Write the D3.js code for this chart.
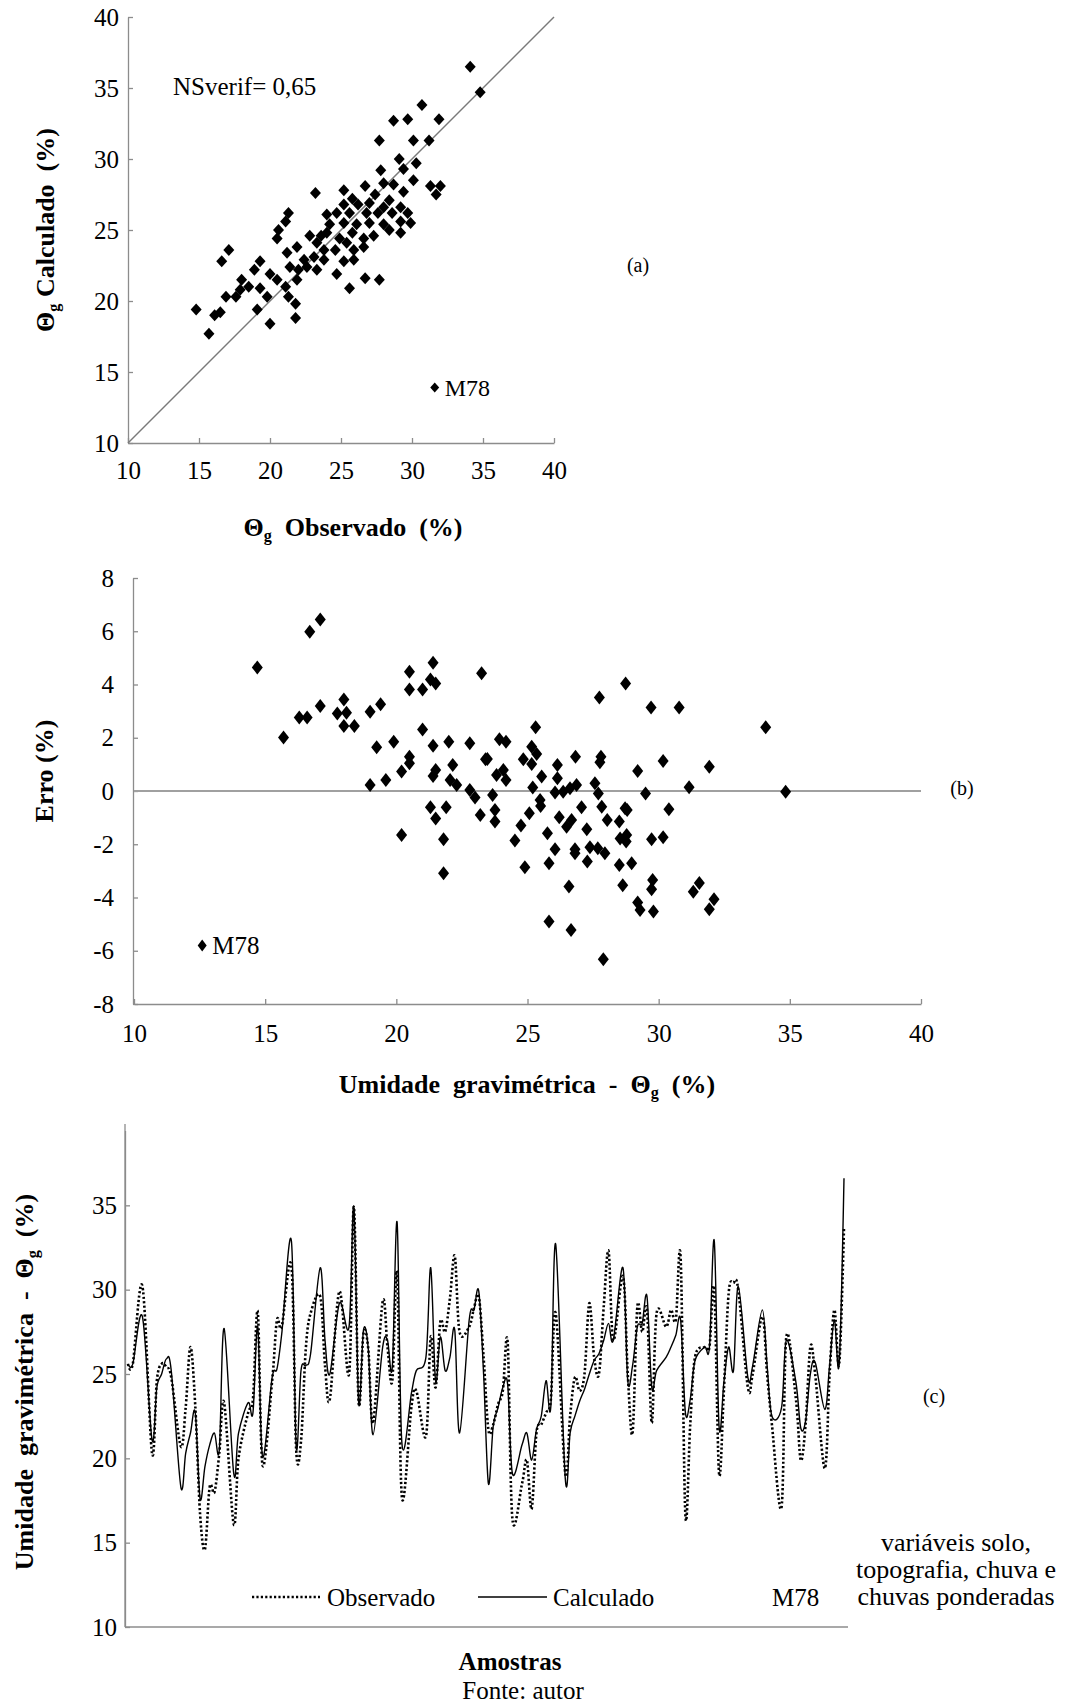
<!DOCTYPE html>
<html><head><meta charset="utf-8">
<script src="https://cdn.jsdelivr.net/npm/d3@7"></script>
<style>
body{margin:0;background:#fff}
svg{display:block}
text{font-family:"Liberation Serif","Times New Roman",Tinos,serif;fill:#000;white-space:pre}
</style>
</head><body>
<svg id="fig" width="1070" height="1703"></svg>
<script>
// ---------- Panel (a): observed vs calculated ----------
const pontosA = [[34.1,36.5],[34.8,34.7],[30.7,33.8],[28.7,32.7],[29.7,32.8],[31.9,32.8],[27.7,31.3],[30.1,31.3],[31.2,31.3],[29.1,30.0],[30.3,29.7],[27.8,29.2],[29.4,29.3],[30.1,28.5],[28.0,28.3],[31.3,28.1],[32.0,28.1],[31.7,27.5],[23.2,27.6],[25.2,27.8],[26.7,28.1],[27.4,27.5],[28.7,28.2],[29.4,27.7],[28.4,27.1],[25.8,27.2],[25.2,26.8],[26.2,26.8],[27.0,26.9],[28.0,26.6],[29.2,26.6],[29.7,26.2],[24.0,26.1],[24.7,26.2],[25.6,26.2],[26.8,26.2],[27.6,26.2],[28.6,26.2],[21.3,26.2],[21.1,25.6],[29.2,25.6],[29.9,25.5],[24.2,25.4],[25.2,25.5],[26.1,25.4],[27.0,25.5],[28.0,25.4],[20.6,25.0],[20.5,24.4],[22.8,24.6],[23.6,24.6],[24.0,24.8],[24.9,24.4],[25.8,24.8],[26.6,24.4],[27.3,24.6],[28.4,25.0],[29.2,24.8],[23.3,24.1],[21.9,23.8],[21.2,23.4],[23.8,23.6],[24.6,23.6],[25.4,24.1],[25.9,23.6],[26.6,23.8],[17.1,23.6],[16.6,22.8],[19.3,22.8],[22.4,22.9],[23.1,23.1],[23.8,22.9],[25.2,22.8],[25.9,22.9],[18.9,22.2],[20.0,21.9],[21.4,22.4],[22.0,22.2],[22.6,22.4],[23.3,22.2],[24.7,21.9],[26.7,21.6],[27.7,21.5],[25.6,20.9],[18.0,21.5],[18.5,21.0],[17.9,20.8],[20.5,21.5],[19.3,20.9],[21.1,21.0],[21.9,21.5],[16.9,20.3],[17.6,20.3],[19.8,20.3],[21.3,20.3],[21.8,19.8],[14.8,19.4],[16.1,19.0],[16.5,19.2],[19.1,19.4],[20.0,18.4],[21.8,18.8],[15.7,17.7]];
const m78A = [31.6, 13.9];
const ticksA = [10,15,20,25,30,35,40];

// ---------- Panel (b): error vs gravimetric moisture ----------
const pontosB = [[14.7,4.64],[16.7,5.98],[17.1,6.44],[15.7,2.01],[16.3,2.76],[16.6,2.76],[17.1,3.19],[17.75,2.91],[18.0,3.44],[18.1,2.94],[18.0,2.44],[18.4,2.44],[19.0,2.98],[19.4,3.26],[19.25,1.64],[19.9,1.85],[19.0,0.23],[19.6,0.41],[20.5,4.48],[20.5,3.81],[21.0,3.81],[21.4,4.82],[21.3,4.19],[21.5,4.04],[23.25,4.42],[21.0,2.31],[20.5,1.29],[20.5,1.04],[20.2,0.73],[21.4,1.70],[22.0,1.85],[22.8,1.79],[22.15,0.98],[21.5,0.79],[21.4,0.56],[22.05,0.41],[22.3,0.23],[22.8,0.04],[23.0,-0.24],[23.4,1.19],[21.3,-0.61],[21.9,-0.61],[21.5,-1.03],[23.2,-0.90],[20.2,-1.65],[21.8,-1.81],[21.8,-3.09],
[28.74,4.04],[27.74,3.51],[29.71,3.14],[30.78,3.14],[34.08,2.39],[34.84,-0.03],[25.31,2.39],[23.93,1.94],[24.18,1.85],[25.16,1.66],[25.35,1.39],[25.16,1.01],[24.84,1.19],[23.47,1.20],[24.08,0.79],[23.82,0.60],[24.18,0.41],[26.14,0.98],[26.14,0.48],[26.83,1.29],[25.54,0.54],[27.80,1.29],[27.76,1.08],[29.20,0.75],[30.17,1.13],[31.93,0.91],[31.16,0.14],[25.20,0.13],[26.05,-0.06],[26.36,-0.03],[26.62,0.10],[26.87,0.23],[27.57,0.29],[27.70,-0.09],[29.50,-0.09],[23.67,-0.15],[23.76,-0.71],[23.76,-1.15],[25.48,-0.34],[25.50,-0.56],[25.07,-0.84],[24.75,-1.30],[24.52,-1.86],[24.90,-2.86],[25.76,-1.59],[26.21,-0.99],[26.49,-1.34],[26.68,-1.09],[27.06,-0.61],[27.26,-1.44],[26.05,-2.19],[25.82,-2.71],[26.81,-2.19],[26.81,-2.34],[27.28,-2.65],[27.38,-2.11],[27.68,-2.15],[27.95,-2.34],[27.83,-0.59],[28.04,-1.09],[28.50,-1.15],[28.72,-0.65],[28.80,-0.71],[28.53,-1.78],[28.78,-1.65],[28.76,-1.90],[28.50,-2.78],[28.97,-2.71],[29.73,-1.81],[30.17,-1.74],[30.39,-0.69],[26.58,-3.59],[28.63,-3.54],[29.77,-3.34],[29.73,-3.69],[29.20,-4.19],[29.29,-4.47],[29.80,-4.53],[31.55,-3.46],[31.32,-3.78],[32.11,-4.07],[31.93,-4.44],[25.82,-4.90],[26.66,-5.22],[27.89,-6.32]];
const m78B = [12.6, -5.8];
const ticksBx = [10,15,20,25,30,35,40];
const ticksBy = [-8,-6,-4,-2,0,2,4,6,8];

// ---------- Panel (c): series by sample ----------
const amostras = [1,2,4,6,7,8,9,10,12,13,14,15,16,17,18,19,20,21,23,24,26,27,28,29,31,32,33,35,36,37,38,39,41,42,43,45,47,48,49,50,51,52,54,55,56,57,58,60,61,63,64,65,66,67,68,69,70,72,73,74,75,76,77,78,79,80,81,83,84,85,86,87,88,89,90,92,93,94,95,96,97,98,99,100,101,102,104,105,106,107,108,109,110,111,113,114,115,116,117,118,119,121,122,123,124,125,126,127,128,130,131,133,134,135,137,138,140,141,142,143,144,146,147,148,149,150];
const calculado = [25.6,25.6,28.4,21.1,24.2,25.0,25.9,25.2,18.3,20.3,21.5,22.7,17.6,19.5,20.8,21.5,20.5,27.7,19.1,21.5,23.3,22.7,27.8,20.1,24.8,25.3,27.4,32.9,20.7,25.2,25.5,26.2,31.3,27.0,25.0,29.2,27.8,34.9,23.3,27.6,26.5,21.4,26.6,27.0,25.4,34.0,20.9,23.9,25.2,26.0,31.3,24.6,27.2,25.2,26.0,27.6,21.5,28.2,28.8,29.9,25.0,18.5,21.9,23.0,24.2,24.4,19.1,20.8,21.5,19.9,21.7,22.5,24.6,23.1,32.7,18.8,21.5,22.5,23.4,24.1,25.0,25.8,26.2,27.0,28.0,27.0,31.3,24.6,25.5,27.8,28.0,29.6,24.2,25.2,26.0,26.6,27.3,28.2,22.7,23.5,25.8,26.6,26.6,32.9,21.9,24.5,26.6,25.2,30.2,24.8,25.5,28.8,25.5,22.5,23.0,27.0,24.5,21.8,22.2,25.0,25.7,22.9,25.5,28.2,25.6,36.6];
const observado = [25.6,25.6,30.2,20.3,24.6,25.6,25.4,24.8,20.7,23.0,26.6,23.1,16.7,14.6,18.3,18.0,20.3,23.3,16.1,20.0,22.7,23.5,28.7,19.6,24.6,28.2,27.8,31.4,20.5,21.0,26.5,28.6,29.6,25.5,23.5,29.9,25.0,34.9,23.3,27.4,26.5,22.1,29.3,26.6,24.6,31.0,17.7,23.1,24.0,21.3,27.2,24.2,28.1,27.5,29.5,32.0,27.5,27.8,28.9,29.6,26.0,21.7,22.0,23.2,24.0,26.9,16.4,18.5,19.9,17.0,21.5,22.0,22.7,23.5,28.6,19.1,22.5,24.8,24.0,25.0,29.2,26.0,25.0,29.0,32.3,27.0,30.8,25.0,21.5,29.0,27.5,28.8,22.1,28.6,27.8,28.8,28.2,31.9,16.6,22.0,26.0,26.6,26.6,30.0,19.1,24.0,29.8,30.4,30.0,24.2,25.0,28.4,25.0,22.0,17.1,27.2,23.5,19.9,22.0,26.6,25.0,19.4,25.0,28.8,25.6,33.7];
const ticksCy = [10,15,20,25,30,35,40];

// ---------- drawing ----------
const svg = d3.select('#fig');
svg.append('rect').attr('width',1070).attr('height',1703).attr('fill','#fff');
const AX = '#8c8c8c';
const fmt = d => String(d);

function diamond(w,h){ return `M0,${-h}L${w},0L0,${h}L${-w},0Z`; }
function styleAxis(g, size){
  g.attr('font-family',null);
  g.selectAll('.domain').attr('stroke',AX).attr('stroke-width',1.3);
  g.selectAll('.tick line').attr('stroke',AX).attr('stroke-width',1.3);
  g.selectAll('.tick text').attr('font-size',size).attr('fill','#000');
}
function thetaLabel(sel, before, after){
  sel.append('tspan').text(before + 'Θ');
  sel.append('tspan').attr('font-size','0.62em').attr('dy','0.28em').text('g');
  sel.append('tspan').attr('dy','-0.18em').text(after);
}

// Panel (a)
const xA = d3.scaleLinear().domain([10,40]).range([128,554]);
const yA = d3.scaleLinear().domain([10,40]).range([443,17]);
const gA = svg.append('g');
gA.append('g').attr('transform','translate(0,443)')
  .call(d3.axisBottom(xA).tickValues(ticksA).tickFormat(fmt).tickSize(-5).tickSizeOuter(0).tickPadding(18))
  .call(g=>styleAxis(g,25));
gA.append('g').attr('transform','translate(128,0)')
  .call(d3.axisLeft(yA).tickValues(ticksA).tickFormat(fmt).tickSize(-5).tickSizeOuter(0).tickPadding(9))
  .call(g=>styleAxis(g,25));
gA.append('line').attr('x1',xA(10)).attr('y1',yA(10)).attr('x2',xA(40)).attr('y2',yA(40))
  .attr('stroke','#7a7a7a').attr('stroke-width',1.5);
gA.selectAll('path.pa').data(pontosA).join('path').attr('class','pa')
  .attr('d',diamond(5.5,6)).attr('transform',d=>`translate(${xA(d[0])},${yA(d[1])})`).attr('fill','#000');
gA.append('path').attr('d',diamond(4.5,5)).attr('transform',`translate(${xA(m78A[0])},${yA(m78A[1])})`).attr('fill','#000');
gA.append('text').attr('x',xA(m78A[0])+10).attr('y',yA(m78A[1])+8).attr('font-size',24).text('M78');
gA.append('text').attr('x',173).attr('y',95).attr('font-size',25).text('NSverif= 0,65');
gA.append('text').attr('x',638).attr('y',272).attr('font-size',20).attr('text-anchor','middle').text('(a)');
thetaLabel(gA.append('text').attr('x',353).attr('y',536).attr('font-size',26).attr('font-weight','bold').attr('text-anchor','middle'),'','  Observado  (%)');
thetaLabel(gA.append('text').attr('transform','translate(54,230) rotate(-90)').attr('font-size',26).attr('font-weight','bold').attr('text-anchor','middle'),'',' Calculado  (%)');

// Panel (b)
const xB = d3.scaleLinear().domain([10,40]).range([134,921]);
const yB = d3.scaleLinear().domain([-8,8]).range([1004,578]);
const gB = svg.append('g');
gB.append('g').attr('transform','translate(0,1004)')
  .call(d3.axisBottom(xB).tickValues(ticksBx).tickFormat(fmt).tickSize(-5).tickSizeOuter(0).tickPadding(20))
  .call(g=>styleAxis(g,25));
gB.append('g').attr('transform','translate(133,0)')
  .call(d3.axisLeft(yB).tickValues(ticksBy).tickFormat(fmt).tickSize(-5).tickSizeOuter(0).tickPadding(19))
  .call(g=>styleAxis(g,25));
gB.append('line').attr('x1',xB(10)).attr('x2',xB(40)).attr('y1',yB(0)).attr('y2',yB(0))
  .attr('stroke','#a0a0a0').attr('stroke-width',2);
gB.selectAll('path.pb').data(pontosB).join('path').attr('class','pb')
  .attr('d',diamond(5.5,7)).attr('transform',d=>`translate(${xB(d[0])},${yB(d[1])})`).attr('fill','#000');
gB.append('path').attr('d',diamond(4.5,6)).attr('transform',`translate(${xB(m78B[0])},${yB(m78B[1])})`).attr('fill','#000');
gB.append('text').attr('x',xB(m78B[0])+10).attr('y',yB(m78B[1])+9).attr('font-size',25).text('M78');
gB.append('text').attr('x',962).attr('y',795).attr('font-size',20).attr('text-anchor','middle').text('(b)');
thetaLabel(gB.append('text').attr('x',527).attr('y',1093).attr('font-size',26).attr('font-weight','bold').attr('text-anchor','middle'),'Umidade  gravimétrica  -  ','  (%)');
gB.append('text').attr('transform','translate(53,771) rotate(-90)').attr('font-size',26).attr('font-weight','bold').attr('text-anchor','middle').text('Erro (%)');

// Panel (c)
const xC = d3.scaleLinear().domain([1,150]).range([128,844]);
const yC = d3.scaleLinear().domain([10,40]).range([1627,1121]);
svg.append('defs').append('clipPath').attr('id','clipC').append('rect')
  .attr('x',-200).attr('y',1131).attr('width',1200).attr('height',600);
const gC = svg.append('g');
gC.append('g').attr('transform','translate(125,0)').attr('clip-path','url(#clipC)')
  .call(d3.axisLeft(yC).tickValues(ticksCy).tickFormat(fmt).tickSize(-5).tickSizeOuter(0).tickPadding(8))
  .call(g=>styleAxis(g,25));
gC.append('line').attr('x1',125).attr('x2',125).attr('y1',1124).attr('y2',1627).attr('stroke',AX).attr('stroke-width',1.3);
gC.append('line').attr('x1',125).attr('x2',848).attr('y1',1627).attr('y2',1627).attr('stroke',AX).attr('stroke-width',1.3);
const lineC = d3.line().x((d,i)=>xC(amostras[i])).y(d=>yC(d)).curve(d3.curveCardinal.tension(0));
gC.append('path').attr('d',lineC(observado)).attr('fill','none').attr('stroke','#000')
  .attr('stroke-width',2.6).attr('stroke-dasharray','2.2,2.2');
gC.append('path').attr('d',lineC(calculado)).attr('fill','none').attr('stroke','#000').attr('stroke-width',1.4);
// legend
gC.append('line').attr('x1',252).attr('x2',320).attr('y1',1597).attr('y2',1597).attr('stroke','#000').attr('stroke-width',2.6).attr('stroke-dasharray','2.2,2.2');
gC.append('text').attr('x',327).attr('y',1606).attr('font-size',25).text('Observado');
gC.append('line').attr('x1',478).attr('x2',547).attr('y1',1597).attr('y2',1597).attr('stroke','#000').attr('stroke-width',1.6);
gC.append('text').attr('x',553).attr('y',1606).attr('font-size',25).text('Calculado');
gC.append('text').attr('x',772).attr('y',1606).attr('font-size',25).text('M78');
thetaLabel(gC.append('text').attr('transform','translate(33,1382) rotate(-90)').attr('font-size',26).attr('font-weight','bold').attr('text-anchor','middle'),'Umidade  gravimétrica  -  ','  (%)');
gC.append('text').attr('x',934).attr('y',1403).attr('font-size',20).attr('text-anchor','middle').text('(c)');
[['variáveis solo,',1551],['topografia, chuva e',1578],['chuvas ponderadas',1605]].forEach(([t,y])=>{
  gC.append('text').attr('x',956).attr('y',y).attr('font-size',26).attr('text-anchor','middle').text(t);
});
gC.append('text').attr('x',510).attr('y',1670).attr('font-size',25).attr('font-weight','bold').attr('text-anchor','middle').text('Amostras');
gC.append('text').attr('x',523).attr('y',1699).attr('font-size',25).attr('text-anchor','middle').text('Fonte: autor');
</script>
</body></html>
